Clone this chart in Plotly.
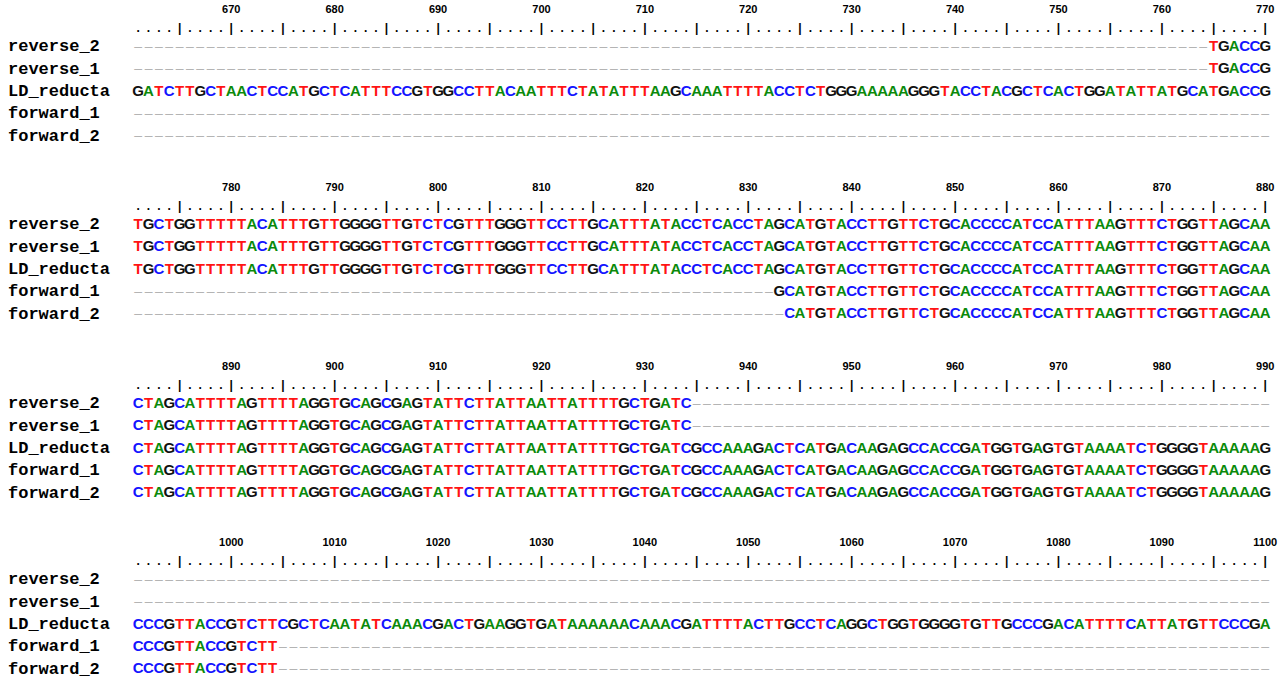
import plotly.graph_objects as go

# ---------------- data ----------------
START = 661
BLOCK_LEN = 110
N_BLOCKS = 4
ROW_NAMES = ["reverse_2", "reverse_1", "LD_reducta", "forward_1", "forward_2"]

LD_reducta = "".join([
    # 661-770
    "GATCTTGCTA", "ACTCCATGCT", "CATTTCCGTG", "GCCTTACAAT", "TTCTATATTT",
    "AAGCAAATTT", "TACCTCTGGG", "AAAAAGGGTA", "CCTACGCTCA", "CTGGATATTA", "TGCATGACCG",
    # 771-880
    "TGCTGGTTTT", "TACATTTGTT", "GGGGTTGTCT", "CGTTTGGGTT", "CCTTGCATTT",
    "ATACCTCACC", "TAGCATGTAC", "CTTGTTCTGC", "ACCCCATCCA", "TTTAAGTTTC", "TGGTTAGCAA",
    # 881-990
    "CTAGCATTTT", "AGTTTTAGGT", "GCAGCGAGTA", "TTCTTATTAA", "TTATTTTGCT",
    "GATCGCCAAA", "GACTCATGAC", "AAGAGCCACC", "GATGGTGAGT", "GTAAAATCTG", "GGGTAAAAAG",
    # 991-1100
    "CCCGTTACCG", "TCTTCGCTCA", "ATATCAAACG", "ACTGAAGGTG", "ATAAAAAACA",
    "AACGATTTTA", "CTTGCCTCAG", "GCTGGTGGGG", "TGTTGCCCGA", "CATTTTCATT", "ATGTTCCCGA",
])

reverse_read = "".join([
    "TGACCG",
    "TGCTGGTTTT", "TACATTTGTT", "GGGGTTGTCT", "CGTTTGGGTT", "CCTTGCATTT",
    "ATACCTCACC", "TAGCATGTAC", "CTTGTTCTGC", "ACCCCATCCA", "TTTAAGTTTC", "TGGTTAGCAA",
    "CTAGCATTTT", "AGTTTTAGGT", "GCAGCGAGTA", "TTCTTATTAA", "TTATTTTGCT", "GATC",
])
forward_read_1 = "".join([
    "GCATGTAC", "CTTGTTCTGC", "ACCCCATCCA", "TTTAAGTTTC", "TGGTTAGCAA",
    "CTAGCATTTT", "AGTTTTAGGT", "GCAGCGAGTA", "TTCTTATTAA", "TTATTTTGCT",
    "GATCGCCAAA", "GACTCATGAC", "AAGAGCCACC", "GATGGTGAGT", "GTAAAATCTG", "GGGTAAAAAG",
    "CCCGTTACCGTCTT",
])
forward_read_2 = forward_read_1[1:]

READ_STARTS = {"reverse_2": 765, "reverse_1": 765, "LD_reducta": 661,
               "forward_1": 833, "forward_2": 834}
READ_SEQS = {"reverse_2": reverse_read, "reverse_1": reverse_read,
             "LD_reducta": LD_reducta, "forward_1": forward_read_1,
             "forward_2": forward_read_2}

BASE_COLORS = {"A": "#0b8a0b", "C": "#1414ff", "G": "#111111", "T": "#ff1414", "-": "#b4b4b4"}

# ---------------- layout helpers ----------------
TOTAL = BLOCK_LEN * N_BLOCKS
aligned = {}
for name in ROW_NAMES:
    off = READ_STARTS[name] - START
    s = READ_SEQS[name]
    aligned[name] = ("-" * off + s + "-" * TOTAL)[:TOTAL]

BLOCK_Y = [47, 225, 404, 580]
ROW_STEP = 22.4

W, H = 1288, 676
X0_PX, CHAR_PX = 138.2, 10.34
xr = [(0 - X0_PX) / CHAR_PX, (W - X0_PX) / CHAR_PX]

fig = go.Figure()

pts = {k: ([], [], []) for k in BASE_COLORS}
for b in range(N_BLOCKS):
    for r, name in enumerate(ROW_NAMES):
        y = BLOCK_Y[b] + r * ROW_STEP
        for i in range(BLOCK_LEN):
            ch = aligned[name][b * BLOCK_LEN + i]
            pts[ch][0].append(i)
            pts[ch][1].append(y)
            pts[ch][2].append("–" if ch == "-" else ch)

for ch, (xs, ys, ts) in pts.items():
    fig.add_trace(go.Scatter(
        x=xs, y=ys, text=ts, mode="text", textposition="middle center",
        textfont=dict(family="Liberation Sans, Arial", size=15 if ch != "-" else 14,
                      color=BASE_COLORS[ch], weight="bold" if ch != "-" else "normal"),
        hoverinfo="skip", showlegend=False))

# row labels
lx, ly, lt = [], [], []
for b in range(N_BLOCKS):
    for r, name in enumerate(ROW_NAMES):
        lx.append((8 - X0_PX) / CHAR_PX)
        ly.append(BLOCK_Y[b] + r * ROW_STEP)
        lt.append(name)
fig.add_trace(go.Scatter(
    x=lx, y=ly, text=lt, mode="text", textposition="middle right",
    textfont=dict(family="Liberation Mono, Courier New", size=17, color="#000000", weight="bold"),
    hoverinfo="skip", showlegend=False))

# ruler
nx, ny, nt = [], [], []
tx, ty, tt = [], [], []
for b in range(N_BLOCKS):
    for i in range(BLOCK_LEN):
        pos = START + b * BLOCK_LEN + i
        tx.append(i)
        ty.append(BLOCK_Y[b] - 18)
        tt.append("|" if pos % 5 == 0 else ".")
        if pos % 10 == 0:
            nx.append(i)
            ny.append(BLOCK_Y[b] - 37)
            nt.append(str(pos))
fig.add_trace(go.Scatter(
    x=nx, y=ny, text=nt, mode="text", textposition="middle center",
    textfont=dict(family="Liberation Sans, Arial", size=11, color="#000000", weight="bold"),
    hoverinfo="skip", showlegend=False))
fig.add_trace(go.Scatter(
    x=tx, y=ty, text=tt, mode="text", textposition="middle center",
    textfont=dict(family="Liberation Sans, Arial", size=12, color="#000000", weight="bold"),
    hoverinfo="skip", showlegend=False))

fig.update_layout(
    width=W, height=H, margin=dict(l=0, r=0, t=0, b=0),
    paper_bgcolor="white", plot_bgcolor="white",
    xaxis=dict(range=xr, visible=False, fixedrange=True),
    yaxis=dict(range=[H, 0], visible=False, fixedrange=True),
)
fig.write_html("out.html", config={"displayModeBar": False},
               post_script="document.body.style.margin='0';document.body.style.overflow='hidden';")
